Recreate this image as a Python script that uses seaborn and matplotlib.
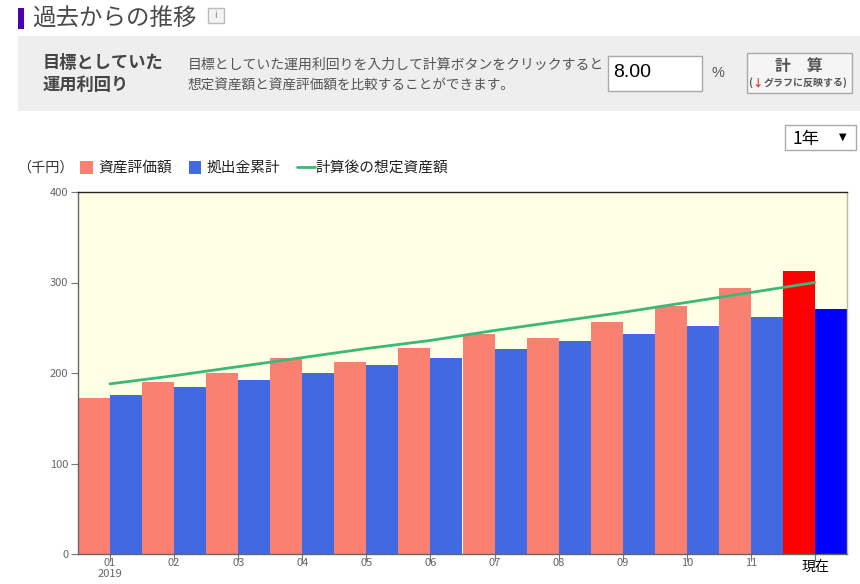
import matplotlib
matplotlib.use("Agg")
import matplotlib.pyplot as plt
import pandas as pd
import seaborn as sns
from matplotlib.legend_handler import HandlerPatch
from matplotlib.patches import Patch, Rectangle

months = ["01\n2019", "02", "03", "04", "05", "06", "07", "08", "09", "10", "11", "現在"]
asset_value = [172, 190, 200, 217, 212, 228, 243, 239, 256, 274, 294, 313]
contribution = [176, 184, 192, 200, 209, 217, 226, 235, 243, 252, 262, 271]
expected = [188, 197, 207, 217, 227, 236, 247, 257, 267, 278, 289, 300]
series_names = ["資産評価額", "拠出金累計", "計算後の想定資産額"]
y_ticks = [0, 100, 200, 300, 400]

sns.set_theme(style="white")
plt.rcParams["font.family"] = ["Noto Sans CJK JP", "DejaVu Sans"]

df = pd.DataFrame({
    "month": months * 2,
    "value": asset_value + contribution,
    "series": [series_names[0]] * 12 + [series_names[1]] * 12,
})

fig = plt.figure(figsize=(8.6, 5.84), dpi=100)

# page furniture, in pixel coordinates
page = fig.add_axes([0, 0, 1, 1], zorder=-1)
page.set_xlim(0, 860)
page.set_ylim(584, 0)
page.axis("off")


def box(x0, y0, x1, y1, face, edge="none", lw=1):
    page.add_patch(Rectangle((x0, y0), x1 - x0, y1 - y0, facecolor=face, edgecolor=edge, linewidth=lw))


box(18, 8, 24, 29, "#4a00b4")
page.text(32, 19, "過去からの推移", fontsize=16.9, color="#4a4a4a", va="center")
box(208, 8, 224, 23, "#f4f4f4", "#bbbbbb")
page.text(216, 15.5, "i", fontsize=7, color="#888888", ha="center", va="center")

box(18, 36, 860, 111, "#eeeeee")
page.text(43, 63.5, "目標としていた", fontsize=12.4, fontweight="bold", color="#444444", va="center")
page.text(43, 84.5, "運用利回り", fontsize=12.4, fontweight="bold", color="#444444", va="center")
page.text(188, 65, "目標としていた運用利回りを入力して計算ボタンをクリックすると", fontsize=10, color="#555555", va="center")
page.text(188, 85.5, "想定資産額と資産評価額を比較することができます。", fontsize=9.85, color="#555555", va="center")

box(607.5, 55.5, 701.5, 90.5, "white", "#aaaaaa")
page.text(613.5, 72.5, "8.00", fontsize=14, family="Liberation Sans", color="black", va="center")
page.text(718, 73, "%", fontsize=10.5, family="Liberation Sans", color="#555555", ha="center", va="center")

box(746.5, 52.5, 851.5, 93, "#f5f5f5", "#aaaaaa")
page.text(798.5, 66, "計　算", fontsize=11.4, fontweight="bold", color="#555555", ha="center", va="center")
page.text(748.5, 83, "(", fontsize=7.2, fontweight="bold", color="#555555", va="center")
page.text(757, 83, "↓", fontsize=7.5, fontweight="bold", color="#e03030", ha="center", va="center")
page.text(764, 83, "グラフに反映する)", fontsize=7.2, fontweight="bold", color="#555555", va="center")

box(784.5, 124.5, 855.5, 150, "white", "#aaaaaa")
page.text(792.5, 139, "1年", fontsize=12.5, color="black", va="center")
page.text(843, 137, "▼", fontsize=7, family="DejaVu Sans", color="black", ha="center", va="center")

page.text(45, 167.5, "（千円）", fontsize=10.2, color="#333333", ha="center", va="center")

# chart
ax = fig.add_axes([78 / 860, (584 - 554) / 584, 769 / 860, 362 / 584])
ax.set_facecolor("#ffffe6")
sns.barplot(data=df, x="month", y="value", hue="series", hue_order=series_names[:2],
            palette=["#fa8072", "#4169e1"], width=1.0, saturation=1, linewidth=0, ax=ax)
ax.containers[0][-1].set_facecolor("#ff0000")
ax.containers[1][-1].set_facecolor("#0000ff")
sns.lineplot(x=months, y=expected, sort=False, color="#3cb878", linewidth=2.0, label=series_names[2], ax=ax)

ax.set_xlim(-0.5, 11.5)
ax.set_ylim(0, 400)
ax.set_yticks(y_ticks)
ax.set_xlabel("")
ax.set_ylabel("")
ax.tick_params(axis="y", length=5, width=0.8, color="#777777", labelsize=8, labelcolor="#666666", pad=2, left=True)
ax.tick_params(axis="x", length=5, width=0.8, color="#777777", labelsize=8, labelcolor="#666666", pad=-2, bottom=True)
for lab in ax.get_xticklabels():
    lab.set_linespacing(1.05)
ax.get_xticklabels()[-1].set_color("black")
ax.get_xticklabels()[-1].set_fontsize(10)
ax.get_xticklabels()[-1].set_y(-0.004)

ax.spines["top"].set_color("#222222")
ax.spines["right"].set_color("#bbbbaa")
ax.spines["left"].set_color("#666666")
ax.spines["bottom"].set_color("#666666")
for s in ax.spines.values():
    s.set_linewidth(1)


def small_box(legend, orig_handle, xdescent, ydescent, width, height, fontsize):
    return Rectangle((-xdescent, -ydescent - 1.5), 9, 9.5)


handles, labels = ax.get_legend_handles_labels()
ax.legend(handles, labels, ncol=3, frameon=False, fontsize=10.6,
          loc="center left", bbox_to_anchor=(80 / 860, 1 - 168 / 584), bbox_transform=fig.transFigure,
          borderaxespad=0, borderpad=0, handlelength=1.2, handletextpad=0.02, columnspacing=1.15,
          labelcolor="#222222", handler_map={Patch: HandlerPatch(patch_func=small_box)})

fig.savefig("out.png", dpi=100)
